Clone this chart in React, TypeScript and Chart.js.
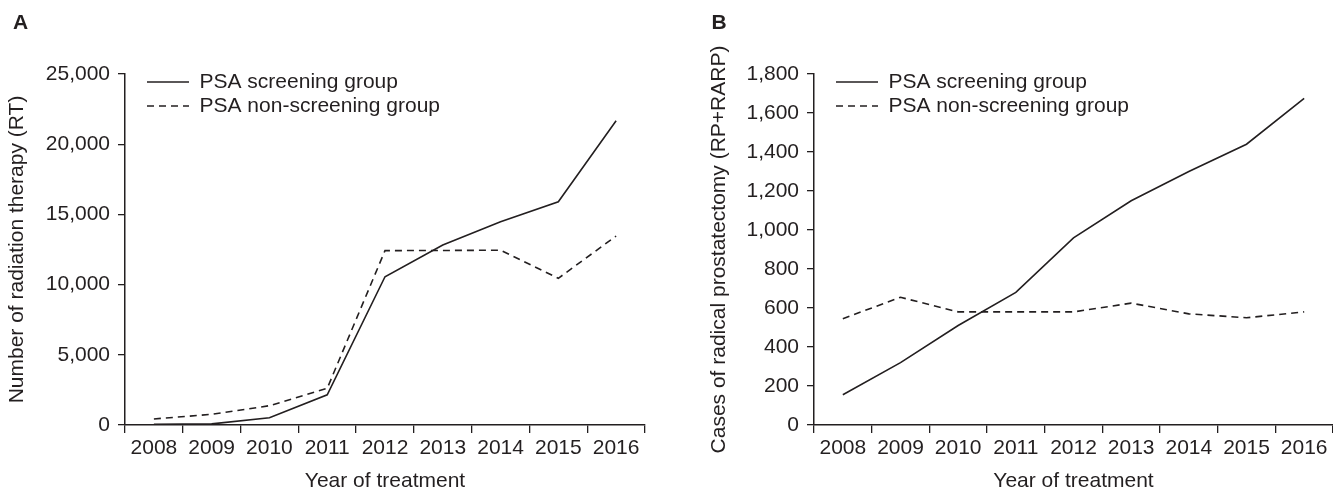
import React, { useEffect, useRef } from "react";
import { Chart, registerables } from "chart.js";

Chart.register(...registerables);

const years = ["2008", "2009", "2010", "2011", "2012", "2013", "2014", "2015", "2016"];

const rtScreening = [50, 80, 520, 2150, 10560, 12820, 14480, 15900, 21670];
const rtNonScreening = [430, 760, 1375, 2610, 12420, 12430, 12450, 10450, 13460];

const rpScreening = [155, 320, 510, 680, 960, 1150, 1300, 1440, 1675];
const rpNonScreening = [545, 655, 580, 580, 580, 625, 570, 550, 580];

const seriesNames = ["PSA screening group", "PSA non-screening group"];

const INK = "#231f20";
const FAMILY = "'Liberation Sans', Arial, Helvetica, sans-serif";
const FS = 21;
const SAMPLE_W = 42;
const DASH = [7, 5];

function lineSample(dash: number[]): HTMLCanvasElement {
  const c = document.createElement("canvas");
  c.width = SAMPLE_W;
  c.height = 4;
  const ctx = c.getContext("2d") as CanvasRenderingContext2D;
  ctx.strokeStyle = INK;
  ctx.lineWidth = 1.6;
  ctx.setLineDash(dash);
  ctx.beginPath();
  ctx.moveTo(0, 2);
  ctx.lineTo(SAMPLE_W, 2);
  ctx.stroke();
  return c;
}

const legendShift = {
  id: "legendShift",
  afterLayout(chart: any, _args: any, opts: any) {
    const lg = chart.legend;
    if (!lg) return;
    const ca = chart.chartArea;
    lg.left = ca.left + (opts.dx || 0);
    lg.top = ca.top + (opts.dy || 0);
    lg.right = lg.left + lg.width;
    lg.bottom = ca.bottom;
  },
};

function makeConfig(
  screening: number[],
  nonScreening: number[],
  yMax: number,
  yStep: number,
  yTitle: string,
  padLeft: number,
  padRight: number,
  yWidth: number
): any {
  return {
    type: "line",
    data: {
      labels: years,
      datasets: [
        {
          label: seriesNames[0],
          data: screening,
          borderColor: INK,
          backgroundColor: INK,
          borderWidth: 1.6,
          pointRadius: 0,
          pointStyle: lineSample([]),
          tension: 0,
        },
        {
          label: seriesNames[1],
          data: nonScreening,
          borderColor: INK,
          backgroundColor: INK,
          borderWidth: 1.6,
          borderDash: DASH,
          pointRadius: 0,
          pointStyle: lineSample(DASH),
          tension: 0,
        },
      ],
    },
    options: {
      responsive: false,
      animation: false,
      devicePixelRatio: 1,
      layout: { padding: { left: padLeft, right: padRight, top: 74, bottom: 0 } },
      plugins: {
        legend: {
          display: true,
          position: "chartArea",
          align: "start",
          labels: {
            usePointStyle: true,
            pointStyleWidth: SAMPLE_W,
            padding: 3,
            color: INK,
            font: { family: FAMILY, size: FS },
          },
        },
        legendShift: { dx: 19, dy: -5.5 },
        tooltip: { enabled: false },
      },
      scales: {
        x: {
          type: "category",
          offset: true,
          grid: {
            display: true,
            drawOnChartArea: false,
            drawTicks: true,
            tickLength: 8,
            offset: true,
            color: INK,
            lineWidth: 1.3,
          },
          border: { display: true, color: INK, width: 1.5 },
          ticks: {
            color: INK,
            font: { family: FAMILY, size: FS },
            padding: 3,
            maxRotation: 0,
            autoSkip: false,
          },
          title: {
            display: true,
            text: "Year of treatment",
            color: INK,
            font: { family: FAMILY, size: FS },
            padding: { top: 0, bottom: -2 },
          },
          afterFit: (s: any) => {
            s.height = 67;
          },
        },
        y: {
          type: "linear",
          min: 0,
          max: yMax,
          grid: {
            display: true,
            drawOnChartArea: false,
            drawTicks: true,
            tickLength: 7,
            color: INK,
            lineWidth: 1.3,
          },
          border: { display: true, color: INK, width: 1.5 },
          ticks: {
            stepSize: yStep,
            color: INK,
            font: { family: FAMILY, size: FS },
            padding: 8,
            callback: (v: any) => Number(v).toLocaleString("en-US"),
          },
          title: {
            display: true,
            text: yTitle,
            color: INK,
            font: { family: FAMILY, size: FS },
            padding: { top: 5, bottom: 0 },
          },
          afterFit: (s: any) => {
            s.width = yWidth;
          },
        },
      },
    },
    plugins: [legendShift],
  };
}

export default function App() {
  const refA = useRef<HTMLCanvasElement | null>(null);
  const refB = useRef<HTMLCanvasElement | null>(null);

  useEffect(() => {
    const a = new Chart(
      refA.current as HTMLCanvasElement,
      makeConfig(rtScreening, rtNonScreening, 25000, 5000, "Number of radiation therapy (RT)", 0, 21, 125)
    );
    const b = new Chart(
      refB.current as HTMLCanvasElement,
      makeConfig(rpScreening, rpNonScreening, 1800, 200, "Cases of radical prostatectomy (RP+RARP)", 36, 0, 112)
    );
    return () => {
      a.destroy();
      b.destroy();
    };
  }, []);

  const labelStyle: React.CSSProperties = {
    position: "absolute",
    fontFamily: FAMILY,
    fontWeight: "bold",
    fontSize: "21px",
    lineHeight: "21px",
    color: INK,
  };

  return (
    <div
      style={{
        position: "fixed",
        left: 0,
        top: 0,
        width: 1333,
        height: 492,
        background: "#ffffff",
        overflow: "hidden",
      }}
    >
      <canvas
        ref={refA}
        width={666}
        height={492}
        style={{ position: "absolute", left: 0, top: 0, width: 666, height: 492 }}
      />
      <canvas
        ref={refB}
        width={667}
        height={492}
        style={{ position: "absolute", left: 666, top: 0, width: 667, height: 492 }}
      />
      <div style={{ ...labelStyle, left: 13, top: 10.7 }}>A</div>
      <div style={{ ...labelStyle, left: 711.5, top: 10.7 }}>B</div>
    </div>
  );
}
